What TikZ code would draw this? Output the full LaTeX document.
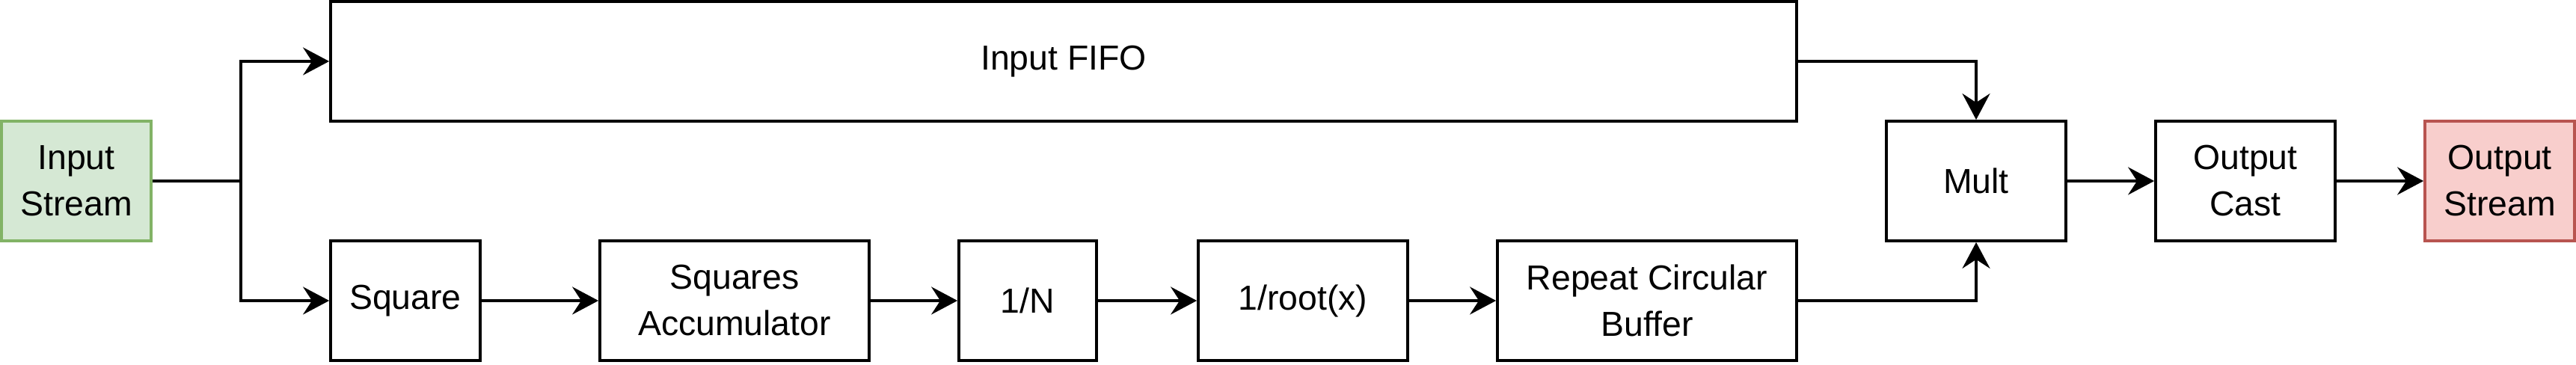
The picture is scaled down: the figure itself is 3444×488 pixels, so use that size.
\documentclass[tikz,border=0pt]{standalone}
\usepackage{fontspec}
\setmainfont{Liberation Sans}
\usetikzlibrary{arrows.meta}
\definecolor{greenfill}{HTML}{D5E8D4}
\definecolor{greenline}{HTML}{82B366}
\definecolor{redfill}{HTML}{F8CECC}
\definecolor{redline}{HTML}{B85450}
\tikzset{
  blk/.style={draw=black, line width=0.95pt, fill=white, align=center, inner sep=0pt,
    font=\fontsize{11.6}{15.5}\selectfont, minimum height=40pt},
  srcblk/.style={blk, draw=greenline, fill=greenfill},
  snkblk/.style={blk, draw=redline, fill=redfill},
  arr/.style={line width=0.9pt, -{Stealth[length=8.75pt, width=9.25pt, inset=3pt]}},
  ln/.style={line width=0.9pt}
}
\begin{document}
\begin{tikzpicture}[x=0.25pt, y=-0.25pt]
\useasboundingbox (0,0) rectangle (3444,488);
\node[srcblk, minimum width=50pt] (in) at (102,242) {Input\\Stream};
\node[blk, minimum width=490pt] (fifo) at (1422,82) {Input FIFO};
\node[blk, minimum width=50pt] (sq) at (542,402) {Square};
\node[blk, minimum width=90pt] (acc) at (982,402) {Squares\\Accumulator};
\node[blk, minimum width=46pt] (invn) at (1374,402) {1/N};
\node[blk, minimum width=70pt] (rsqrt) at (1742,402) {1/root(x)};
\node[blk, minimum width=100pt] (rcb) at (2202,402) {Repeat Circular\\Buffer};
\node[blk, minimum width=60pt] (mult) at (2642,242) {Mult};
\node[blk, minimum width=60pt] (cast) at (3002,242) {Output\\Cast};
\node[snkblk, minimum width=50pt] (out) at (3342,242) {Output\\Stream};
\coordinate (split) at (322,242);
\draw[ln] (in.east) -- (split);
\draw[arr] (split) |- (fifo.west);
\draw[arr] (split) |- (sq.west);
\draw[arr] (sq) -- (acc);
\draw[arr] (acc) -- (invn);
\draw[arr] (invn) -- (rsqrt);
\draw[arr] (rsqrt) -- (rcb);
\draw[arr] (fifo.east) -| (mult.north);
\draw[arr] (rcb.east) -| (mult.south);
\draw[arr] (mult) -- (cast);
\draw[arr] (cast) -- (out);
\end{tikzpicture}
\end{document}
